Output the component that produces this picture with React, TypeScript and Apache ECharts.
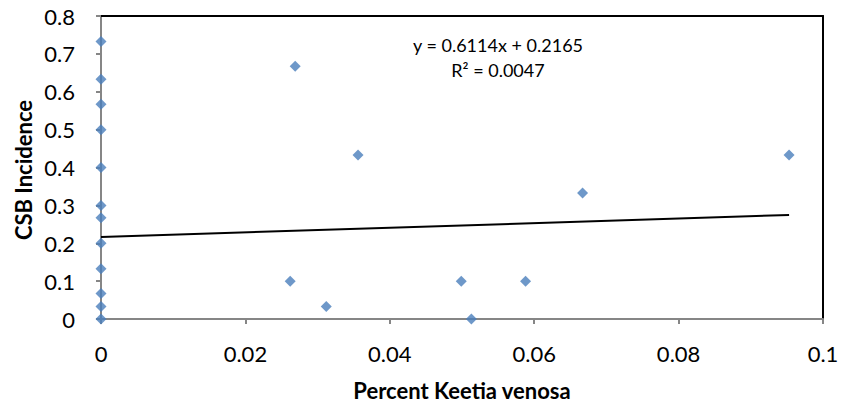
import React, { useEffect, useRef } from "react";
import * as echarts from "echarts";

const xValues = [0, 0, 0, 0, 0, 0, 0, 0, 0, 0, 0, 0, 0.0262, 0.0269, 0.0312, 0.0356, 0.0499, 0.0513, 0.0588, 0.0667, 0.0953];
const yValues = [0.733, 0.633, 0.567, 0.5, 0.4, 0.3, 0.267, 0.2, 0.133, 0.067, 0.033, 0, 0.1, 0.667, 0.033, 0.433, 0.1, 0, 0.1, 0.333, 0.433];
const trendSlope = 0.6114;
const trendIntercept = 0.2165;
const equationLines = ["y = 0.6114x + 0.2165", "R² = 0.0047"];
const xTitle = "Percent Keetia venosa";
const yTitle = "CSB Incidence";

const FONT = "Lato, 'Open Sans', sans-serif";

export default function App() {
  const ref = useRef<HTMLDivElement>(null);
  useEffect(() => {
    if (!ref.current) return;
    const chart = echarts.init(ref.current, undefined, { renderer: "svg" });
    const points = xValues.map((x, i) => [x, yValues[i]]);
    const xMin = Math.min(...xValues);
    const xMax = Math.max(...xValues);
    const trend = [
      [xMin, trendSlope * xMin + trendIntercept],
      [xMax, trendSlope * xMax + trendIntercept],
    ];
    chart.setOption({
      animation: false,
      textStyle: { fontFamily: FONT },
      grid: { left: 101, right: 23, top: 16, bottom: 88, containLabel: false },
      xAxis: [
        {
          type: "value",
          min: 0,
          max: 0.1,
          interval: 0.02,
          position: "bottom",
          axisLine: { show: true, onZero: false, lineStyle: { color: "#868686", width: 2 } },
          axisTick: { show: true, inside: false, length: 5, lineStyle: { color: "#868686", width: 2 } },
          axisLabel: { fontFamily: FONT, fontSize: 22, color: "#000", margin: 23, formatter: (v: number) => String(+v.toFixed(2)) },
          splitLine: { show: false },
        },
        {
          type: "value",
          min: 0,
          max: 0.1,
          position: "top",
          axisLine: { show: true, onZero: false, lineStyle: { color: "#000", width: 2 } },
          axisTick: { show: false },
          axisLabel: { show: false },
          splitLine: { show: false },
        },
      ],
      yAxis: [
        {
          type: "value",
          min: 0,
          max: 0.8,
          interval: 0.1,
          position: "left",
          axisLine: { show: true, onZero: false, lineStyle: { color: "#868686", width: 2 } },
          axisTick: { show: true, inside: false, length: 5, lineStyle: { color: "#868686", width: 2 } },
          axisLabel: { fontFamily: FONT, fontSize: 22, color: "#000", margin: 26, formatter: (v: number) => String(+v.toFixed(1)) },
          splitLine: { show: false },
        },
        {
          type: "value",
          min: 0,
          max: 0.8,
          position: "right",
          axisLine: { show: true, onZero: false, lineStyle: { color: "#000", width: 2 } },
          axisTick: { show: false },
          axisLabel: { show: false },
          splitLine: { show: false },
        },
      ],
      series: [
        {
          type: "line",
          data: trend,
          symbol: "none",
          lineStyle: { color: "#000", width: 2 },
          z: 2,
        },
        {
          type: "scatter",
          data: points,
          symbol: "diamond",
          symbolSize: 11,
          itemStyle: { color: "#4A7EBB" },
          z: 3,
        },
      ],
      graphic: [
        {
          type: "text",
          x: 498,
          y: 45,
          style: { text: equationLines[0], fontFamily: FONT, fontSize: 18, fill: "#000", textAlign: "center", textVerticalAlign: "middle" },
        },
        {
          type: "text",
          x: 498,
          y: 70,
          style: { text: equationLines[1], fontFamily: FONT, fontSize: 18, fill: "#000", textAlign: "center", textVerticalAlign: "middle" },
        },
        {
          type: "text",
          x: 462,
          y: 390,
          style: { text: xTitle, fontFamily: FONT, fontSize: 22, fontWeight: "bold", fill: "#000", textAlign: "center", textVerticalAlign: "middle" },
        },
        {
          type: "text",
          x: 23,
          y: 170,
          rotation: Math.PI / 2,
          style: { text: yTitle, fontFamily: FONT, fontSize: 22, fontWeight: "bold", fill: "#000", textAlign: "center", textVerticalAlign: "middle" },
        },
      ],
    });
    return () => chart.dispose();
  }, []);
  return <div ref={ref} style={{ position: "absolute", left: 0, top: 0, width: 846, height: 407 }} />;
}
